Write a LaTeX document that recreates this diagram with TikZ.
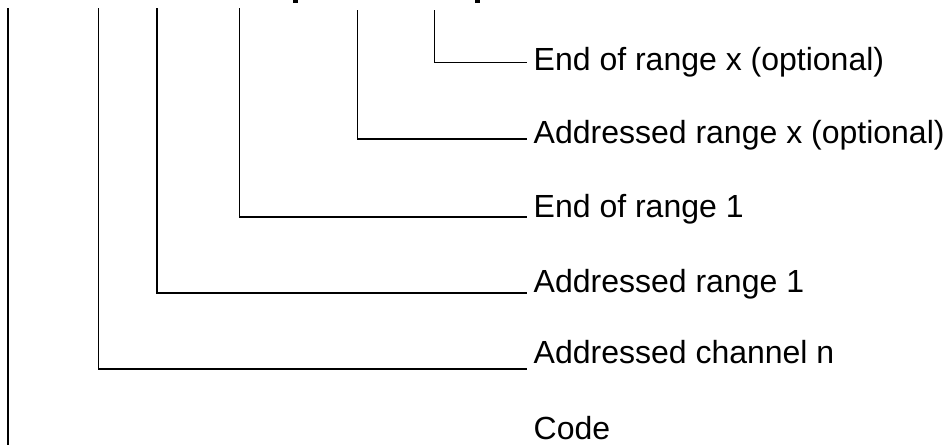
\documentclass[tikz,border=0pt]{standalone}
\usepackage{fontspec}
\setmainfont{Liberation Sans}

\begin{document}
\begin{tikzpicture}[
    x=1pt, y=-1pt,
    every node/.style={font=\fontsize{32}{38}\selectfont},
    lbl/.style={anchor=base west, inner xsep=6.5pt, inner ysep=0pt},
    stem/.style={line width=1.2pt},
]

% === Frame ===
\useasboundingbox (0, 0) rectangle (949, 445);

% === Cut-off bracket feet at the top edge ===
\fill (293, 0) rectangle (298, 2.5);
\fill (475, 0) rectangle (480, 2.5);

% === Stem tops ===
\coordinate (code) at (8, 8);
\coordinate (chan) at (98.5, 8);
\coordinate (ar1) at (157, 8);
\coordinate (er1) at (239.5, 8);
\coordinate (arx) at (357.5, 10);
\coordinate (erx) at (434.5, 10);

% === Labels ===
\node[lbl] (erxlbl) at (527, 70) {End of range x (optional)};
\node[lbl] (arxlbl) at (527, 143) {Addressed range x (optional)};
\node[lbl] (er1lbl) at (527, 217) {End of range 1};
\node[lbl] (ar1lbl) at (527, 292) {Addressed range 1};
\node[lbl] (chanlbl) at (527, 363) {Addressed channel n};
\node[lbl] (codelbl) at (527, 439) {Code};

% === Stems ===
\draw[stem] (erx) |- ([yshift=7.3pt]erxlbl.base west);
\draw[stem] (arx) |- ([yshift=4pt]arxlbl.base west);
\draw[stem] (er1) |- (er1lbl.base west);
\draw[stem] (ar1) |- ([yshift=-1pt]ar1lbl.base west);
\draw[stem] (chan) |- ([yshift=-6pt]chanlbl.base west);
\draw[stem] (code) -- (code |- 0, 445);

\end{tikzpicture}
\end{document}
